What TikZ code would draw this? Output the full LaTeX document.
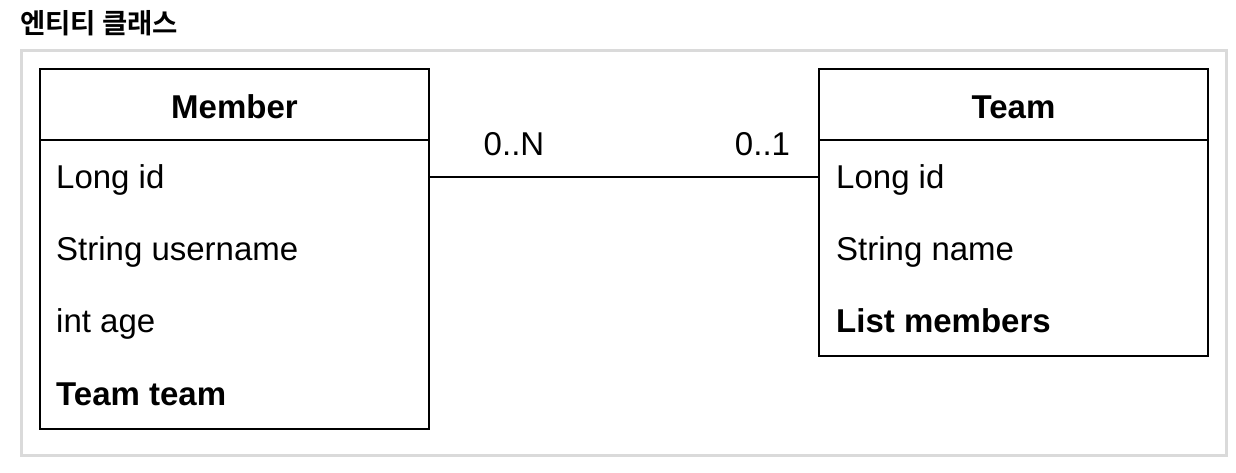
\documentclass[tikz,border=0pt]{standalone}
\usepackage{fontspec}
\setmainfont{Liberation Sans}
\newfontfamily\krfont{Noto Sans CJK KR}[BoldFont={* Bold}]
\definecolor{framegray}{HTML}{DADADA}
\begin{document}
\begin{tikzpicture}[x=1pt,y=-1pt,
  frame/.style={draw=framegray,line width=3pt,inner sep=0pt,outer sep=0pt},
  box/.style={draw=black,line width=2.4pt,inner sep=0pt,outer sep=0pt,minimum width=389pt},
  attr/.style={anchor=base west,inner sep=0pt,font=\fontsize{33}{38}\selectfont},
  battr/.style={attr,font=\fontsize{33}{38}\selectfont\bfseries},
  head/.style={anchor=base,inner sep=0pt,font=\fontsize{33}{38}\selectfont\bfseries},
  mult/.style={anchor=base,inner sep=0pt,font=\fontsize{33}{38}\selectfont},
  link/.style={draw=black,line width=2.2pt}]
\useasboundingbox (0,0) rectangle (1236,472);
\fill[white] (0,0) rectangle (1236,472);
% title
\node[anchor=base west,inner sep=0pt,font=\krfont\bfseries\fontsize{27.5}{32}\selectfont] (title) at (20,33.5) {엔티티 클래스};
% outer frame
\node[frame,minimum width=1205pt,minimum height=404.5pt] (outer) at (624,252.75) {};
% Member class
\node[box,minimum height=71pt] (mhead) at (234.5,104.5) {};
\node[box,minimum height=289pt,anchor=north] (mbody) at (mhead.south) {};
\node[head] (mname) at (234.5,118) {Member};
\node[attr] (m1) at (56,188) {Long id};
\node[attr] (m2) at (56,260.5) {String username};
\node[attr] (m3) at (56,332) {int age};
\node[battr] (m4) at (56,405) {Team team};
% Team class
\node[box,minimum height=71pt] (thead) at (1013.5,104.5) {};
\node[box,minimum height=216pt,anchor=north] (tbody) at (thead.south) {};
\node[head] (tname) at (1013.5,118) {Team};
\node[attr] (t1) at (836,188) {Long id};
\node[attr] (t2) at (836,260.5) {String name};
\node[battr] (t3) at (836,332) {List members};
% association
\coordinate (cl) at (mbody.north east |- 0,177);
\coordinate (cr) at (tbody.north west |- 0,177);
\draw[link] (cl) -- (cr);
\node[mult] (ml) at (514,155) {0..N};
\node[mult] (mr) at (762.5,155) {0..1};
\end{tikzpicture}
\end{document}
